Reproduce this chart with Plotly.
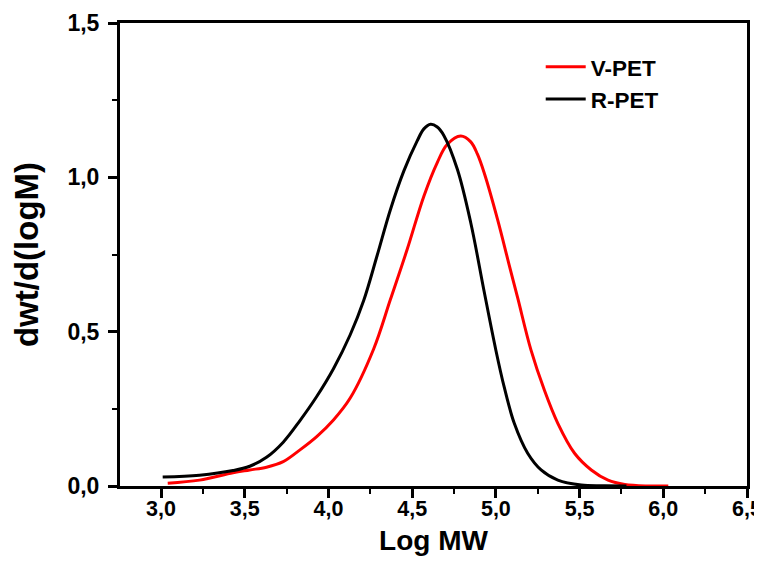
import plotly.graph_objects as go

# R-PET (black)
r_x = [3.01, 3.23, 3.43, 3.53, 3.63, 3.73, 3.83, 3.93, 4.03, 4.13, 4.21, 4.29, 4.37, 4.45,
       4.53, 4.57, 4.61, 4.65, 4.69, 4.77, 4.85, 4.93, 5.00, 5.05, 5.11, 5.19, 5.27, 5.37, 5.51, 5.65, 5.78]
r_y = [0.029, 0.035, 0.050, 0.064, 0.093, 0.142, 0.212, 0.29, 0.38, 0.49, 0.60, 0.745, 0.895, 1.02,
       1.118, 1.157, 1.172, 1.163, 1.135, 1.026, 0.853, 0.63, 0.44, 0.32, 0.203, 0.106, 0.052, 0.019,
       0.003, 0.001, 0.0]

# V-PET (red)
v_x = [3.04, 3.23, 3.43, 3.53, 3.63, 3.73, 3.83, 3.93, 4.03, 4.13, 4.27, 4.37, 4.47, 4.57, 4.65, 4.71,
       4.79, 4.85, 4.89, 4.93, 5.01, 5.08, 5.13, 5.21, 5.29, 5.37, 5.47, 5.57, 5.67, 5.77, 5.91, 6.03]
v_y = [0.009, 0.019, 0.043, 0.052, 0.061, 0.079, 0.117, 0.16, 0.214, 0.285, 0.444, 0.604, 0.766, 0.939,
       1.048, 1.107, 1.134, 1.115, 1.075, 1.015, 0.864, 0.715, 0.61, 0.44, 0.31, 0.203, 0.106, 0.052,
       0.019, 0.005, 0.0, 0.0]

x_ticks = [3.0, 3.5, 4.0, 4.5, 5.0, 5.5, 6.0, 6.5]
y_ticks = [0.0, 0.5, 1.0, 1.5]

FONT = "Arial, 'Liberation Sans', sans-serif"

fig = go.Figure()
fig.add_trace(go.Scatter(x=v_x, y=v_y, mode="lines", name="V-PET",
                         line=dict(color="#ff0000", width=3, shape="spline", smoothing=1.0)))
fig.add_trace(go.Scatter(x=r_x, y=r_y, mode="lines", name="R-PET",
                         line=dict(color="#000000", width=3, shape="spline", smoothing=1.0)))

axis_common = dict(
    showline=True, linecolor="black", linewidth=3, mirror=True,
    ticks="outside", ticklen=9, tickwidth=3, tickcolor="black",
    showgrid=False, zeroline=False, automargin=False,
    ticklabeloverflow="allow",
    tickformat=".1f",
)

fig.update_xaxes(
    range=[2.755, 6.5], tickvals=x_ticks, ticklabelstandoff=-8,
    tickfont=dict(family=FONT, size=21.5, color="black", weight="bold"),
    minor=dict(ticks="outside", ticklen=5, tickwidth=2, tickcolor="black", dtick=0.25, tick0=0),
    title=dict(text="Log MW", font=dict(family=FONT, size=28, color="black", weight="bold"), standoff=11),
    **axis_common,
)
fig.update_yaxes(
    range=[0, 1.5], tickvals=y_ticks, ticklabelstandoff=4,
    tickfont=dict(family=FONT, size=23, color="black", weight="bold"),
    minor=dict(ticks="outside", ticklen=5, tickwidth=2, tickcolor="black", dtick=0.25, tick0=0),
    title=dict(text="dwt/d(logM)", font=dict(family=FONT, size=33, color="black", weight="bold"), standoff=20),
    **axis_common,
)

# page body has an 8px default margin, so the figure is offset by 8px
fig.update_layout(
    width=754, height=565,
    margin=dict(l=112, r=15, t=15, b=87),
    paper_bgcolor="white", plot_bgcolor="white",
    separators=", ",
    showlegend=True,
    legend=dict(x=0.671, y=0.951, xanchor="left", yanchor="top",
                bgcolor="rgba(0,0,0,0)", borderwidth=0,
                font=dict(family=FONT, size=22.5, color="black", weight="bold"),
                tracegroupgap=0, itemwidth=40),
)

fig.write_html("out.html")
